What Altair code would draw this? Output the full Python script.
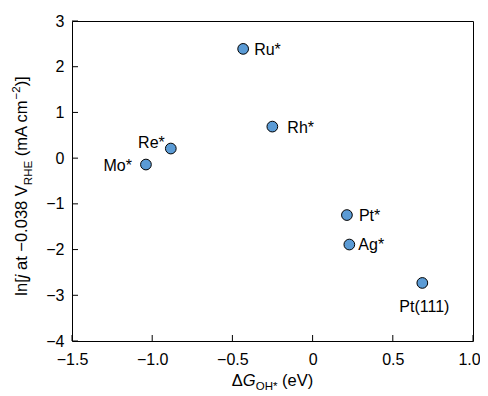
import altair as alt
import pandas as pd

# ---- data ----
labels = ["Mo*", "Re*", "Ru*", "Rh*", "Pt*", "Ag*", "Pt(111)"]
dG_OH = [-1.039, -0.884, -0.433, -0.251, 0.214, 0.229, 0.684]
ln_j = [-0.14, 0.21, 2.39, 0.69, -1.245, -1.89, -2.73]
x_ticks = [-1.5, -1.0, -0.5, 0.0, 0.5, 1.0]
y_ticks = [-4, -3, -2, -1, 0, 1, 2, 3]

df = pd.DataFrame({"label": labels, "x": dG_OH, "y": ln_j})

# ---- layout / style ----
W, H = 401, 320
FONT = "Liberation Sans"
FS = 16.5
SUB = 11.5
LFS = 16
FILL = "#5B9BD5"

xscale = alt.Scale(domain=[-1.5, 1.0], nice=False, zero=False)
yscale = alt.Scale(domain=[-4, 3], nice=False, zero=False)

xaxis = alt.Axis(values=x_ticks, ticks=False, domain=False, grid=False, title=None,
                 labelFlush=False, labelFont=FONT, labelFontSize=LFS, labelColor="black", labelPadding=10,
                 labelOffset={"condition": {"test": "datum.value >= 1", "value": -4}, "value": 0},
                 labelExpr="datum.value == 0 ? '0' : replace(format(datum.value, '.1f'), '-', '\u2212')")
yaxis = alt.Axis(values=y_ticks, ticks=False, domain=False, grid=False, title=None,
                 labelFlush=False, labelFont=FONT, labelFontSize=LFS, labelColor="black", labelPadding=8,
                 labelExpr="replace(format(datum.value, 'd'), '-', '\u2212')")

base = alt.Chart(df)
points = base.mark_circle(size=115, color=FILL, stroke="black", strokeWidth=1, opacity=1).encode(
    x=alt.X("x:Q", scale=xscale, axis=xaxis),
    y=alt.Y("y:Q", scale=yscale, axis=yaxis),
)

# label offsets (layout)
offsets = {
    "Ru*": ("left", 11, 1),
    "Rh*": ("left", 15, 1),
    "Re*": ("right", -6, -6),
    "Mo*": ("right", -14, 1),
    "Pt*": ("left", 12, 1),
    "Ag*": ("left", 9, 0),
    "Pt(111)": ("center", 2, 24),
}
layers = [points]
for lab, (al, dx, dy) in offsets.items():
    layers.append(
        base.transform_filter(alt.datum.label == lab)
        .mark_text(align=al, baseline="middle", dx=dx, dy=dy, font=FONT, fontSize=LFS, color="black")
        .encode(x=alt.X("x:Q", scale=xscale, axis=xaxis), y=alt.Y("y:Q", scale=yscale, axis=yaxis), text="label:N")
    )

# inward ticks
xt = alt.Chart(pd.DataFrame({"x": x_ticks})).mark_rule(color="black", strokeWidth=1).encode(
    x=alt.X("x:Q", scale=xscale, axis=xaxis), y=alt.value(H), y2=alt.value(H - 6))
yt = alt.Chart(pd.DataFrame({"y": y_ticks})).mark_rule(color="black", strokeWidth=1).encode(
    y=alt.Y("y:Q", scale=yscale, axis=yaxis), x=alt.value(0), x2=alt.value(6))
layers += [xt, yt]

# rich axis titles built from text pieces
CW = {'Δ': 0.668, 'G': 0.778, 'O': 0.778, 'H': 0.722, '*': 0.389, ' ': 0.278, '(': 0.333,
      'e': 0.556, 'V': 0.667, ')': 0.333, 'l': 0.222, 'n': 0.556, '[': 0.278, 'j': 0.222,
      'a': 0.556, 't': 0.278, '−': 0.584, '0': 0.556, '.': 0.278, '3': 0.556, '8': 0.556,
      'R': 0.722, 'E': 0.667, 'm': 0.833, 'A': 0.667, 'c': 0.5, '2': 0.556, ']': 0.278}


def tw(s, size):
    return sum(CW.get(ch, 0.556) for ch in s) * size


def rich(pieces, center, base_pos, vertical):
    total = sum(tw(p[0], p[1]) for p in pieces)
    start = center - total / 2 if not vertical else center + total / 2
    out = []
    cum = 0.0
    for text, size, style, shift in pieces:
        lead = len(text) - len(text.lstrip(" "))
        cum += tw(" " * lead, size)
        t = text.strip(" ")
        if vertical:
            xv, yv, ang = base_pos + shift, start - cum, 270
        else:
            xv, yv, ang = start + cum, base_pos + shift, 0
        out.append(
            alt.Chart(pd.DataFrame({"t": [t]})).mark_text(
                align="left", baseline="alphabetic", angle=ang, font=FONT, fontSize=size,
                fontStyle=style, color="black"
            ).encode(x=alt.value(xv), y=alt.value(yv), text="t:N")
        )
        cum += tw(t, size)
    return out


xtitle = [("Δ", FS, "normal", 0), ("G", FS, "italic", 0), ("OH*", SUB, "normal", 4), (" (eV)", FS, "normal", 0)]
ytitle = [("ln[", FS, "normal", 0), ("j", FS, "italic", 0), (" at −0.038 V", FS, "normal", 0),
          ("RHE", SUB, "normal", 5), (" (mA cm", FS, "normal", 0), ("−2", SUB, "normal", -7),
          (")]", FS, "normal", 0)]
layers += rich(xtitle, W / 2, 365, False)
layers += rich(ytitle, 165, -45, True)

chart = alt.layer(*layers).properties(
    width=W, height=H, background="white",
    autosize=alt.AutoSizeParams(type="none"),
    padding={"left": 64, "top": 13, "right": 7, "bottom": 52},
).configure_view(stroke="black", strokeWidth=1)

chart.save("out.html", embed_options={"renderer": "svg", "actions": False})
